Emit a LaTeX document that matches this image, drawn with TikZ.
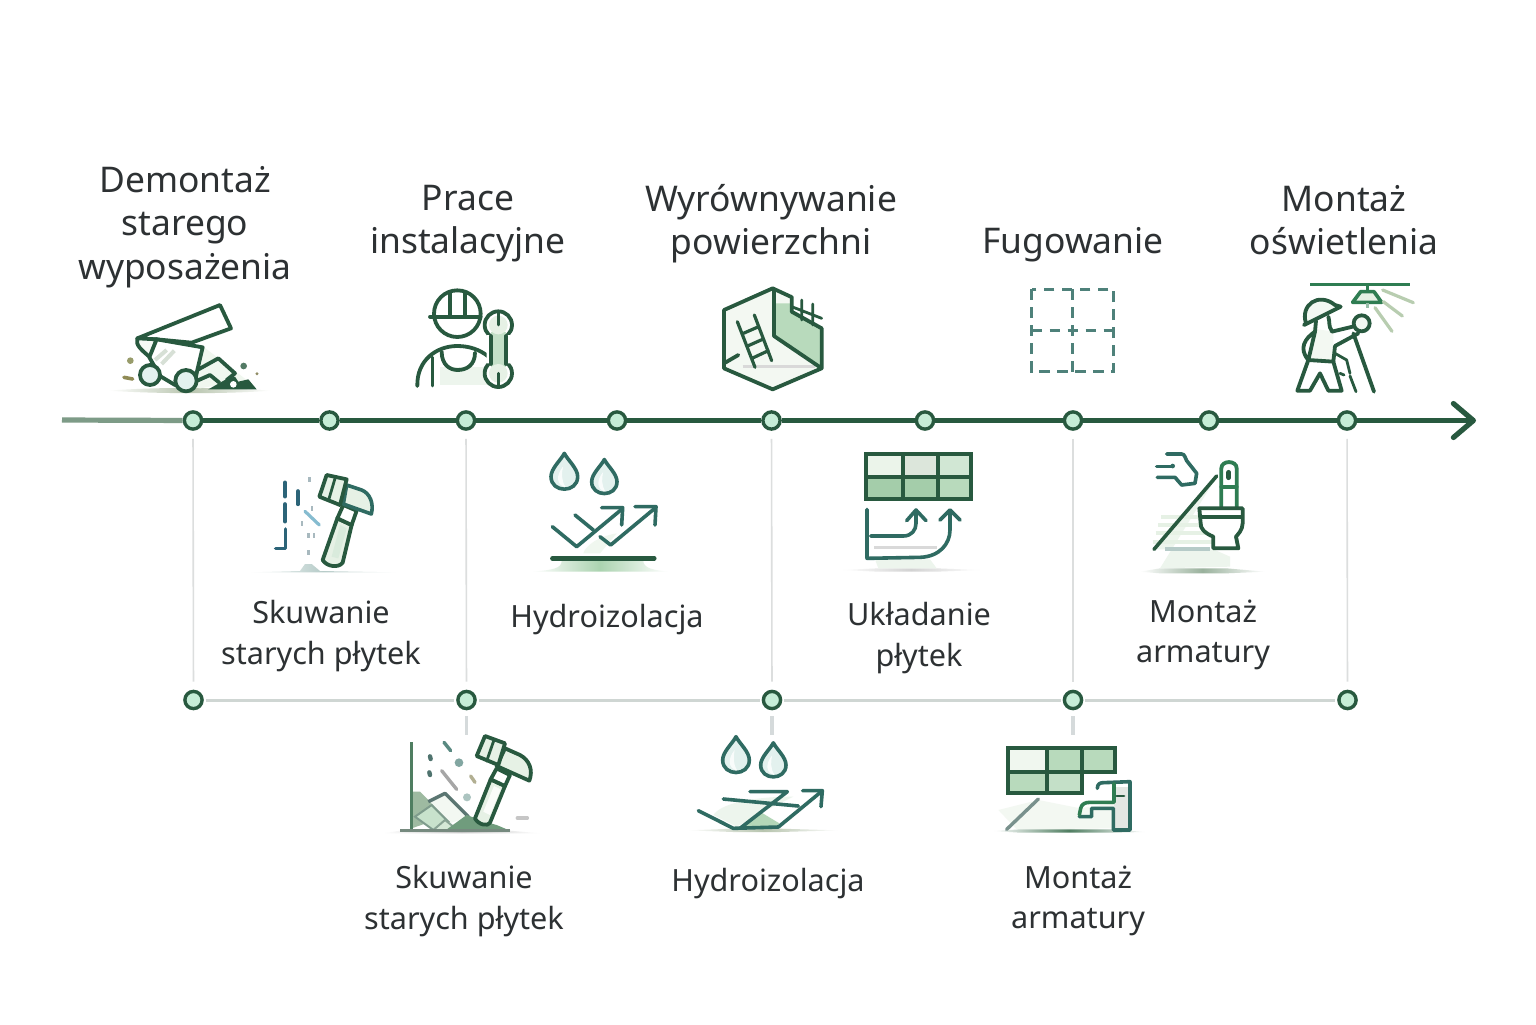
\documentclass[tikz,border=0pt]{standalone}
\usepackage{fontspec}
\setmainfont{Noto Sans}
\usetikzlibrary{arrows.meta}
\definecolor{dk}{HTML}{28593F}
\definecolor{md}{HTML}{2F7D52}
\definecolor{tl}{HTML}{2F6B62}
\definecolor{tint}{HTML}{ABD3B0}
\definecolor{pale}{HTML}{E6F1E5}
\definecolor{txt}{HTML}{2D3133}
\definecolor{dotf}{HTML}{C6EDD7}
\definecolor{axfaint}{HTML}{7D9B87}
\definecolor{hl}{HTML}{CFD6D3}
\definecolor{vl}{HTML}{DCDEDE}
\definecolor{stubc}{HTML}{D5DADB}
\definecolor{dashblue}{HTML}{2C6478}
\definecolor{skyb}{HTML}{86BCD0}
\definecolor{dropf}{HTML}{E3F1EE}
\definecolor{ray}{HTML}{B8CDB0}
\definecolor{groundc}{HTML}{B7C4AE}
\tikzset{
  dotn/.style={circle,draw=dk,fill=dotf,line width=1.7pt,minimum size=8.6pt,inner sep=0pt},
  axis/.style={draw=dk,line width=2.6pt},
  axisfaint/.style={draw=axfaint,line width=2.6pt},
  hline/.style={draw=hl,line width=1.5pt,shorten <=1pt,shorten >=1pt},
  vline/.style={draw=vl,line width=0.8pt,shorten <=4pt,shorten >=4pt},
  stub/.style={draw=stubc,line width=1.6pt,shorten <=3pt},
  ic/.style={draw=dk,line width=1.9pt,line join=round,line cap=round},
  ict/.style={draw=tl,line width=1.8pt,line join=round,line cap=round},
  thin/.style={line width=1.4pt,line cap=round},
  head/.style={font=\fontsize{17.7}{21.6}\selectfont,text=txt,align=center,inner sep=0pt},
  sub/.style={font=\fontsize{15.3}{20.2}\selectfont,text=txt,align=center,inner sep=0pt},
  zA/.style={shift={(60,270)},scale=1/3},
  zB/.style={shift={(520,270)},scale=1/3},
  zC/.style={shift={(1000,270)},scale=1/3},
  zD/.style={shift={(370,680)},scale=1/3},
  zE/.style={shift={(960,680)},scale=1/3},
  ground/.style={left color=white,right color=white,middle color=#1,draw=none},
}
\newcommand{\dropshape}[3]{%
  \fill[dropf,shift={(#1,#2)},scale=#3] (0,-70) .. controls (10,-50) and (40,-25) .. (40,0) .. controls (40,50) and (-40,50) .. (-40,0) .. controls (-40,-25) and (-10,-50) .. (0,-70) -- cycle;
  \fill[white,opacity=.8,shift={(#1,#2)},scale=#3] (-4,-30) .. controls (-25,-5) and (-25,25) .. (4,32) .. controls (-10,10) and (-8,-10) .. (-4,-30) -- cycle;
  \draw[ict,shift={(#1,#2)},scale=#3] (0,-70) .. controls (10,-50) and (40,-25) .. (40,0) .. controls (40,50) and (-40,50) .. (-40,0) .. controls (-40,-25) and (-10,-50) .. (0,-70) -- cycle;}
\begin{document}
\begin{tikzpicture}[x=0.5pt,y=-0.5pt]
\useasboundingbox (0,0) rectangle (1536,1024);
\fill[white] (0,0) rectangle (1536,1024);

% ---------- axis
\coordinate (axs) at (62,420);
\coordinate (axe) at (1476,420.5);
\foreach \n/\x in {t1/193,t2/329.5,t3/466,t4/617,t5/771.5,t6/925,t7/1073,t8/1209,t9/1347}
  \node[dotn] (\n) at (\x,420.5) {};
\foreach \n/\x in {b1/193.5,b2/466.5,b3/772,b4/1073,b5/1347.5}
  \node[dotn] (\n) at (\x,700) {};
\coordinate (s2) at (466.5,735);
\coordinate (s3) at (772,735);
\coordinate (s4) at (1073,735);

\draw[axisfaint] (axs) -- (t1);
\foreach \a/\b in {t1/t2,t2/t3,t3/t4,t4/t5,t5/t6,t6/t7,t7/t8,t8/t9}
  \draw[axis] (\a) -- (\b);
\draw[axis,-{Straight Barb[length=10pt,width=17pt,round]}] (t9) -- (axe);
\foreach \a/\b in {b1/b2,b2/b3,b3/b4,b4/b5}
  \draw[hline] (\a) -- (\b);
\draw[vline] (t1) -- (b1);
\draw[vline] (t3) -- (b2);
\draw[vline] (t5) -- (b3);
\draw[vline] (t7) -- (b4);
\draw[vline] (t9) -- (b5);
\draw[stub] (b2) -- (s2);
\draw[stub] (b3) -- (s3);
\draw[stub] (b4) -- (s4);

% ---------- labels
\node[head] (l1) at (185,227) {Demontaż\\starego\\wyposażenia};
\node[head] (l2) at (468,224) {Prace\\instalacyjne};
\node[head] (l3) at (771,224) {Wyrównywanie\\powierzchni};
\node[head] (l4) at (1073,245) {Fugowanie};
\node[head] (l5) at (1344,220) {Montaż\\oświetlenia};
\node[sub] (m1) at (321,636) {Skuwanie\\starych płytek};
\node[sub] (m2) at (607,620) {Hydroizolacja};
\node[sub] (m3) at (919,638) {Układanie\\płytek};
\node[sub] (m4) at (1203,635) {Montaż\\armatury};
\node[sub] (n1) at (464,901) {Skuwanie\\starych płytek};
\node[sub] (n2) at (768,884) {Hydroizolacja};
\node[sub] (n3) at (1078,901) {Montaż\\armatury};

% ---------- Z1 icons
\begin{scope}[zA]
  % demolition
  \shade[ground=groundc] (145,362) .. controls (300,350) and (500,352) .. (632,362) .. controls (500,372) and (300,372) .. (145,362) -- cycle;
  \fill[pale!60!white] (300,330) -- (430,230) -- (560,330) -- (420,355) -- cycle;
  \draw[ic,fill=white] (232,205) -- (480,105) -- (513,175) -- (395,218) -- (290,208) -- cycle;
  \draw[ic,fill=pale!40!white] (232,205) .. controls (225,225) and (245,240) .. (270,262) -- (290,208) -- cycle;
  \draw[ic,fill=white] (290,208) -- (428,232) -- (412,300) -- (405,335) -- (345,345) -- (300,318) -- (268,262) -- cycle;
  \draw[line width=2pt,draw=pale!85!gray] (285,270) -- (320,240) (305,282) -- (343,242);
  \draw[ic] (412,300) -- (475,265) -- (525,310) -- (500,330);
  \draw[ic] (405,335) -- (450,315) -- (478,338);
  \fill[dk] (445,358) -- (498,328) -- (525,320) -- (535,335) -- (565,328) -- (590,358) -- cycle;
  \fill[white] (520,343) circle[radius=10];
  \draw[ic,fill=dropf] (270,315) circle[radius=30];
  \draw[ic,fill=dropf] (378,332) circle[radius=32];
  \fill[olive!45!dk!70!white] (211,272) circle[radius=10];
  \fill[dk!80!white] (551,288) circle[radius=10];
  \fill[gray!70!olive] (591,311) circle[radius=5];
  \draw[olive!40!gray,line width=1.8pt,line cap=round] (192,322) -- (218,327);

  % worker
  \fill[pale!70!white] (1140,290) rectangle (1282,345);
  \draw[ic] (1192,131) circle[radius=70];
  \draw[ic] (1110,140) -- (1262,140) (1170,68) -- (1170,140) (1215,68) -- (1215,140);
  \draw[ic] (1072,348) .. controls (1070,270) and (1130,228) .. (1192,228) .. controls (1230,228) and (1260,240) .. (1283,258);
  \draw[ic] (1145,245) .. controls (1145,285) and (1170,300) .. (1193,300) .. controls (1220,300) and (1245,285) .. (1245,248);
  \draw[ic,thin,draw=dk] (1118,262) -- (1118,348);
  \draw[ic,fill=white] (1315,165) circle[radius=41];
  \draw[ic,fill=white] (1315,310) circle[radius=41];
  \fill[tint!70!white] (1292,185) rectangle (1338,290);
  \fill[white] (1280,195) rectangle (1292,280) (1338,195) rectangle (1350,280);
  \draw[ic] (1292,198) -- (1292,282) (1338,198) -- (1338,282);
  \fill[pale] (1315,165) circle[radius=28];
  \fill[pale] (1315,310) circle[radius=28];
  \draw[ic,thin] (1315,128) -- (1315,165) (1315,310) -- (1315,350);

  % hammer (small)
  \shade[ground=tl!35!white] (570,907) -- (720,903) -- (735,882) -- (755,882) -- (780,903) -- (1010,907) -- cycle;
  \draw[line width=1.8pt,line cap=round,line join=round,draw=dashblue] (675,637) -- (675,680) (675,702) -- (675,755) (677,777) -- (677,835) -- (647,835) (714,663) -- (714,703);
  \draw[line width=1.6pt,line cap=round,draw=skyb] (735,724) -- (778,765);
  \foreach \a/\b in {748/628,756/715,726/760,746/797,762/797,746/848}
    \fill[skyb!45!gray!70!white] (\a-4,\b-7) rectangle (\a+4,\b+7);
  \draw[ic,fill=pale] (832,745) -- (788,870) .. controls (800,890) and (835,895) .. (848,878) -- (875,765) -- cycle;
  \fill[tint!45!white] (840,765) -- (815,860) -- (835,865) -- (860,775) -- cycle;
  \draw[ic,fill=white] (850,705) -- (890,722) -- (875,765) -- (832,745) -- cycle;
  \draw[ict,fill=pale] (860,645) -- (905,660) .. controls (930,670) and (942,700) .. (934,732) -- (850,702) -- cycle;
  \draw[ic,fill=pale] (800,615) -- (860,628) -- (840,705) -- (778,680) -- cycle;
  \draw[ic,thin] (826,622) -- (806,690);
\end{scope}

% ---------- Z2 icons
\begin{scope}[zB]
  % hex
  \fill[pale!50!white] (758,55) -- (612,120) -- (612,295) -- (758,358) -- (905,295) -- (905,175) -- (815,125) -- (812,80) -- cycle;
  \fill[tint!85!white] (762,100) -- (812,100) -- (815,125) -- (902,175) -- (902,290) -- (762,198) -- cycle;
  \draw[line width=1.5pt,draw=gray!30] (668,290) -- (885,290);
  \draw[ic] (812,80) -- (758,55) -- (612,120) -- (612,295) -- (758,358) -- (905,295) -- (905,175) -- (815,125) -- (815,80);
  \draw[ic] (762,60) -- (762,198) -- (905,295);
  \draw[ic,thin] (815,110) -- (905,145) (845,90) -- (845,150) (878,102) -- (878,165);
  \draw[ic] (612,280) -- (655,255);
  \draw[ic,thin,line width=1.6pt] (652,155) -- (705,292) (703,135) -- (755,272) (670,190) -- (716,170) (685,227) -- (730,207) (698,264) -- (745,242);

  % water
  \dropshape{133}{620}{1}
  \dropshape{253}{635}{.95}
  \fill[pale!60!white] (190,850) .. controls (195,830) and (230,800) .. (290,790) -- (240,850) -- cycle;
  \shade[ground=tint] (35,905) .. controls (100,900) and (125,895) .. (125,872) -- (370,872) .. controls (370,895) and (400,900) .. (445,905) -- cycle;
  \draw[ict] (97,770) -- (170,830) -- (305,718);
  \draw[ict] (245,713) -- (308,713) -- (305,765);
  \draw[ict] (165,735) -- (220,780);
  \draw[ict] (240,800) -- (272,825) -- (408,712);
  \draw[ict] (345,710) -- (408,710) -- (405,765);
  \draw[ic,line width=2.2pt] (97,865) -- (403,865);

  % tiles
  \shade[ground=gray!35] (965,900) -- (1075,895) -- (1250,895) -- (1380,900) -- (1250,905) -- (1075,905) -- cycle;
  \fill[pale!70!white] (1065,868) -- (1230,868) -- (1250,895) -- (1075,895) -- cycle;
  \fill[pale!80!white] (1037,553) rectangle (1150,620);
  \fill[pale!90!gray] (1150,553) rectangle (1255,620);
  \fill[tint!55!white] (1255,553) rectangle (1353,620);
  \fill[tint!95!dk] (1037,620) rectangle (1150,687);
  \fill[tint!95!dk] (1150,620) rectangle (1255,687);
  \fill[tint!85!white] (1255,620) rectangle (1353,687);
  \draw[ic,line join=miter] (1037,553) rectangle (1353,687);
  \draw[ic,line cap=butt] (1037,620) -- (1353,620) (1150,553) -- (1150,687) (1255,553) -- (1255,687);
  \draw[line width=1.5pt,draw=gray!30] (1062,833) -- (1250,833);
  \draw[ict] (1041,718) -- (1041,865) -- (1200,862) .. controls (1260,860) and (1290,820) .. (1290,780) -- (1290,722);
  \draw[ict] (1260,750) -- (1290,720) -- (1320,750);
  \draw[ict] (1052,798) -- (1150,798) .. controls (1175,798) and (1188,780) .. (1188,760) -- (1188,722);
  \draw[ict] (1160,752) -- (1188,720) -- (1218,752);
\end{scope}

% ---------- Z3 icons
\begin{scope}[zC]
  % dashed grid
  \draw[draw=tl!85!white,line width=1.5pt,dash pattern=on 5.4pt off 3.6pt] (95,57) rectangle (340,305);
  \draw[draw=tl!85!white,line width=1.5pt,dash pattern=on 5.4pt off 3.6pt] (217,57) -- (217,305) (95,182) -- (340,182);

  % lamp & worker
  \fill[pale!50!white] (935,175) -- (1000,185) -- (1000,275) -- (925,270) -- cycle;
  \draw[line width=1.8pt,draw=md] (930,44) -- (1230,44);
  \draw[line width=1.8pt,draw=md] (1103,44) -- (1103,62);
  \draw[draw=md,fill=pale,line width=1.8pt,line join=round] (1058,97) -- (1082,65) -- (1122,65) -- (1145,97) -- cycle;
  \draw[line width=1.7pt,draw=md!50!white] (1103,100) -- (1103,114);
  \draw[line width=1.6pt,draw=ray,line cap=round] (1148,60) -- (1240,98) (1150,95) -- (1207,138) (1125,113) -- (1176,184);
  \draw[ic,fill=pale!50!white] (918,160) .. controls (900,105) and (955,65) .. (1005,105) -- (1022,110) -- (912,165) -- cycle;
  \draw[ic] (985,140) .. controls (990,155) and (985,170) .. (995,182) (948,152) -- (945,185);
  \draw[ic] (995,185) -- (1058,170) (1005,228) -- (1075,190);
  \draw[ic,fill=pale!50!white] (1085,160) circle[radius=24];
  \draw[ic] (945,185) .. controls (915,205) and (895,235) .. (925,270) (945,185) -- (925,270) -- (1000,275) -- (1005,228);
  \draw[ic,line join=round] (925,270) -- (892,362) -- (930,362) -- (960,310) -- (985,362) -- (1025,362) -- (1000,275);
  \draw[ic] (1060,190) -- (1122,365);
  \draw[ic,thin] (1005,250) -- (1040,270) -- (1050,310) (1020,310) -- (1032,315) (1050,318) -- (1068,365);

  % toilet
  \shade[ground=gray!40!tint] (420,905) -- (480,895) -- (680,895) -- (795,905) -- (680,910) -- (480,910) -- cycle;
  \fill[pale!70!white] (650,620) -- (470,838) -- (640,838) -- (690,860) -- (690,890) -- (480,895) -- cycle;
  \foreach \y in {740,765,790,815} \draw[line width=2pt,draw=pale] (730-\y/3,\y) -- (640,\y);
  \draw[line width=2pt,draw=tl!35!white] (495,838) -- (630,838);
  \draw[ict] (470,590) -- (515,590);
  \fill[tl] (518,588) circle[radius=7];
  \draw[ict] (500,552) -- (545,552) .. controls (555,552) and (555,565) .. (560,572) -- (590,610) -- (585,640) -- (545,645) -- (525,622) -- (472,622);
  \draw[ict,draw=dk] (462,838) -- (650,618);
  \draw[ic,draw=md,fill=white] (664,710) -- (664,595) .. controls (664,570) and (710,570) .. (710,595) -- (710,710);
  \draw[ic,draw=md] (664,650) -- (710,650);
  \draw[line width=2.4pt,draw=dk,line cap=round] (686,607) -- (686,623);
  \draw[ic,fill=white] (598,715) -- (728,715) -- (728,760) .. controls (728,780) and (712,795) .. (708,800) -- (715,835) -- (640,835) -- (640,800) .. controls (615,790) and (600,775) .. (602,760) -- cycle;
  \draw[ic] (603,740) -- (725,740);
\end{scope}

% ---------- Z4 icons
\begin{scope}[zD]
  % hammer with rubble
  \shade[ground=gray!45] (40,460) -- (90,452) -- (420,452) -- (510,460) -- cycle;
  \fill[tint!70!gray] (125,335) -- (150,335) -- (225,410) -- (125,445) -- cycle;
  \fill[pale!50!white] (180,365) -- (225,340) -- (295,410) -- (240,430) -- cycle;
  \draw[line width=1.7pt,draw=gray!55!tl,line join=round] (175,365) -- (225,340) -- (295,410);
  \fill[tint!65!white,draw=dk!60!white,line width=1pt] (135,410) -- (185,375) -- (235,425) -- (190,450) -- cycle;
  \fill[tint!50!white,draw=dk!55!white,line width=1pt] (190,450) -- (225,420) -- (250,440) -- (235,450) -- cycle;
  \fill[dk!45!tint] (225,452) -- (290,405) -- (345,425) -- (380,435) -- (420,452) -- cycle;
  \draw[line width=1.7pt,draw=dk!70!tint] (125,187) -- (125,447);
  \draw[line width=1.7pt,draw=dk!50!gray!80!white] (90,452) -- (420,452);
  \draw[line width=1.7pt,line cap=round,draw=tl!80!white] (222,187) -- (242,212);
  \draw[line width=1.7pt,line cap=round,draw=gray!70] (215,272) -- (260,328);
  \draw[line width=1.7pt,line cap=round,draw=olive!25!gray!70] (302,288) -- (315,307);
  \draw[line width=1.7pt,line cap=round,draw=gray!45] (442,414) -- (472,414);
  \draw[line width=2.2pt,line cap=round,draw=tl!60!gray] (180,229) -- (182,237) (178,277) -- (180,285);
  \fill[tl!60!white] (267,248) circle[radius=13];
  \fill[tl!40!white] (291,352) circle[radius=12];
  \draw[ic,fill=pale] (362,298) -- (315,415) .. controls (325,435) and (355,440) .. (360,428) -- (405,318) -- cycle;
  \fill[white,opacity=.8] (372,318) -- (340,395) -- (360,405) -- (392,328) -- cycle;
  \draw[ic,fill=white] (380,265) -- (420,285) -- (405,318) -- (362,298) -- cycle;
  \draw[ic,fill=pale] (405,205) -- (450,225) .. controls (478,240) and (490,270) .. (478,302) -- (380,258) -- cycle;
  \draw[ic,fill=pale] (345,168) -- (405,190) -- (385,255) -- (320,228) -- cycle;
  \draw[ic,thin] (372,180) -- (350,243);

  % water plane
  \dropshape{1098}{240}{1}
  \dropshape{1210}{255}{.95}
  \shade[ground=groundc] (955,451) -- (1090,446) -- (1230,446) -- (1405,451) -- (1230,456) -- (1090,456) -- cycle;
  \fill[pale!70!white] (1030,405) .. controls (1050,375) and (1130,350) .. (1270,350) -- (1180,395) -- (1100,440) -- cycle;
  \fill[tint!90!white] (1170,395) -- (1228,430) -- (1218,443) -- (1112,443) -- cycle;
  \draw[ict] (985,392) -- (1090,445) -- (1225,441) -- (1355,334);
  \draw[ict] (1060,357) -- (1285,378);
  \draw[ict] (1140,335) -- (1252,335) -- (1110,445);
  \draw[ict] (1298,332) -- (1357,332) -- (1353,380);
\end{scope}

% ---------- Z5 icons
\begin{scope}[zE]
  \fill[pale!50!white] (115,390) -- (235,360) -- (360,385) -- (460,370) -- (460,445) -- (170,448) -- cycle;
  \shade[ground=dk!70!tint] (100,453) -- (180,448) -- (460,448) -- (555,456) -- (460,458) -- (180,458) -- cycle;
  \fill[pale!60!white] (145,203) rectangle (260,275);
  \fill[tint!85!white] (260,203) rectangle (365,275);
  \fill[tint!85!white] (365,203) rectangle (465,275);
  \fill[tint!85!white] (145,275) rectangle (260,340);
  \fill[tint!70!white] (260,275) rectangle (365,340);
  \draw[ic,line join=miter] (145,340) -- (145,203) -- (465,203) -- (465,275) -- (365,275) -- (365,340) -- cycle;
  \draw[ic,line cap=butt] (145,275) -- (365,275) (260,203) -- (260,340) (365,203) -- (365,275);
  \draw[line width=1.7pt,line cap=round,draw=tl!50!gray!80!white] (140,448) -- (235,357);
  \fill[pale!70!gray!50!white] (462,320) rectangle (508,448);
  \draw[ict] (412,325) .. controls (412,312) and (420,308) .. (430,308) -- (510,305) -- (510,450) -- (460,450) -- (460,385) -- (395,385) -- (395,410) -- (358,410);
  \draw[ict,draw=md] (358,405) -- (362,385) .. controls (365,372) and (375,367) .. (390,367) -- (462,367) -- (462,310);
  \draw[ict,thin,draw=dk] (470,348) -- (492,348);
\end{scope}
\end{tikzpicture}
\end{document}
